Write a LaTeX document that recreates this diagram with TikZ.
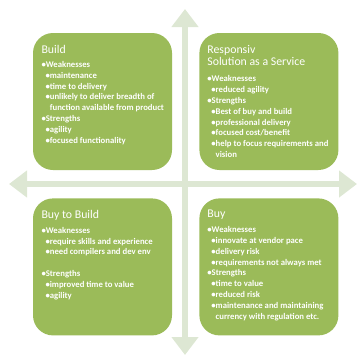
\documentclass[tikz,border=0pt]{standalone}
\usepackage{fontspec}
\setmainfont{Carlito}
\usetikzlibrary{positioning, arrows.meta}
\definecolor{quadgreen}{RGB}{155,187,89}
\definecolor{axisgreen}{RGB}{221,231,211}
\newcommand{\titlefont}{\mdseries\fontsize{11.8}{12}\selectfont}
\newcommand{\mainpt}[1]{\textbullet#1}
\newcommand{\subpt}[1]{\hspace{4pt}\textbullet#1}
\newcommand{\wrapln}[1]{\hspace{4pt}\phantom{\textbullet}#1}
\tikzset{node distance=27pt, quad/.style={fill=quadgreen, rounded corners=20pt, minimum width=139pt, minimum height=137pt, inner sep=0pt},
  quadtext/.style={inner sep=0pt, align=left, text=white, font=\bfseries\fontsize{8.7}{10.8}\selectfont},
  axis/.style={draw=axisgreen, line width=6pt, {Triangle[width=26pt,length=18pt]}-{Triangle[width=26pt,length=18pt]}}}

\begin{document}
\begin{tikzpicture}[x=1pt, y=-1pt]
    \useasboundingbox (0,0) rectangle (358,356);
    % the two crossing axes
    \coordinate (top) at (185,9);
    \coordinate (bottom) at (185,355);
    \coordinate (left) at (9,184);
    \coordinate (right) at (357,184);
    \draw[axis] (bottom) -- (top);
    \draw[axis] (left) -- (right);

    % four quadrants
    \node[quad] (build) at (102.5,101.5) {};
    \node[quad, right=of build] (saas) {};
    \node[quad, below=28pt of build] (buytobuild) {};
    \node[quad, right=of buytobuild] (buy) {};

    \node[quadtext, below right=12pt and 8.5pt of build.north west] (buildtxt) {%
        {\titlefont Build}\\[3.6pt]
        \mainpt{Weaknesses}\\
        \subpt{maintenance}\\
        \subpt{time to delivery}\\
        \subpt{unlikely to deliver breadth of}\\
        \wrapln{function available from product}\\
        \mainpt{Strengths}\\
        \subpt{agility}\\
        \subpt{focused functionality}};
    \node[quadtext, below right=12pt and 8pt of saas.north west] (saastxt) {%
        {\titlefont Responsiv}\\[1.6pt]
        {\titlefont Solution as a Service}\\[5.5pt]
        \mainpt{Weaknesses}\\
        \subpt{reduced agility}\\
        \mainpt{Strengths}\\
        \subpt{Best of buy and build}\\
        \subpt{professional delivery}\\
        \subpt{focused cost/benefit}\\
        \subpt{help to focus requirements and}\\
        \wrapln{vision}};
    \node[quadtext, below right=12pt and 8.5pt of buytobuild.north west] (buytobuildtxt) {%
        {\titlefont Buy to Build}\\[4pt]
        \mainpt{Weaknesses}\\
        \subpt{require skills and experience}\\
        \subpt{need compilers and dev env}\\[10.8pt]
        \mainpt{Strengths}\\
        \subpt{improved time to value}\\
        \subpt{agility}};
    \node[quadtext, below right=12pt and 8pt of buy.north west] (buytxt) {%
        {\titlefont Buy}\\[4pt]
        \mainpt{Weaknesses}\\
        \subpt{innovate at vendor pace}\\
        \subpt{delivery risk}\\
        \subpt{requirements not always met}\\
        \mainpt{Strengths}\\
        \subpt{time to value}\\
        \subpt{reduced risk}\\
        \subpt{maintenance and maintaining}\\
        \wrapln{currency with regulation etc.}};
\end{tikzpicture}
\end{document}
